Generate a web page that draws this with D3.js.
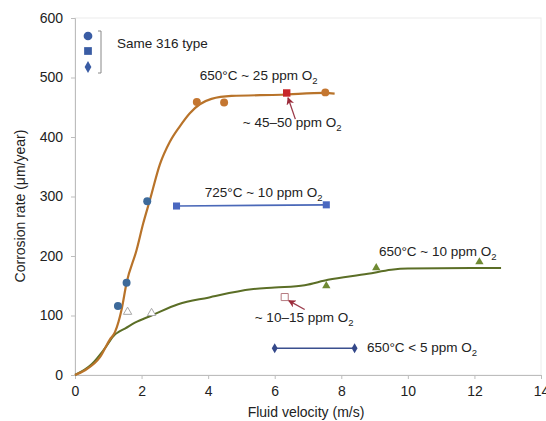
<!DOCTYPE html>
<html>
<head>
<meta charset="utf-8">
<script src="https://cdn.jsdelivr.net/npm/d3@7"></script>
<style>
  body { margin: 0; background: #fff; }
  text { font-family: "Liberation Sans", Arial, sans-serif; fill: #222; }
</style>
</head>
<body>
<div id="chart"></div>
<script>
// data
var orangeCurve = [[0,0],[0.3,8],[0.75,30],[1.05,60],[1.2,72],[1.4,110],[1.55,155],[1.85,210],[2.05,255],[2.25,294],[2.55,354],[2.85,392],[3.15,418],[3.45,440],[3.75,455],[4.1,464],[4.7,469],[6.2,471],[7.5,474],[7.8,473]];
var greenCurve = [[0,0],[0.5,18],[0.9,45],[1.2,68],[1.3,72],[1.5,78],[1.8,88],[2.3,100],[3.1,119],[4,130],[5.3,144],[6,147],[6.9,151],[7.6,160],[8.8,170],[9.5,177],[10,179],[12.8,180]];
var blueCircles = [[1.29,116],[1.55,155],[2.17,292]];
var orangeCircles = [[3.66,459],[4.48,458],[7.52,475]];
var redSquare = [[6.36,474]];
var hollowSquare = [[6.3,131]];
var hollowTriangles = [[1.58,106],[2.3,104]];
var greenTriangles = [[7.55,150],[9.05,180],[12.15,190]];
var blueSquares = [[3.05,284],[7.55,286]];
var navyDiamonds = [[6.0,45],[8.4,45]];
var xTicks = [0,2,4,6,8,10,12,14];
var yTicks = [0,100,200,300,400,500,600];

var labels = [
  {pre: "650°C ~ 25 ppm O", x: 3.75, y: 496},
  {pre: "~ 45–50 ppm O", x: 5.04, y: 417},
  {pre: "725°C ~ 10 ppm O", x: 3.9, y: 299},
  {pre: "650°C ~ 10 ppm O", x: 9.13, y: 200},
  {pre: "~ 10–15 ppm O", x: 5.4, y: 89},
  {pre: "650°C < 5 ppm O", x: 8.77, y: 39}
];

var svgWidth = 546;
var svgHeight = 421;
var margin = {top: 18, right: 5, bottom: 46, left: 75};
var width = svgWidth - margin.left - margin.right;
var height = svgHeight - margin.top - margin.bottom;

var svg = d3.select("#chart").append("svg")
  .attr("width", svgWidth)
  .attr("height", svgHeight);

var g = svg.append("g")
  .attr("transform", `translate(${margin.left}, ${margin.top})`);

var xScale = d3.scaleLinear().domain([0, 14]).range([0, 466]);
var yScale = d3.scaleLinear().domain([0, 600]).range([height, 0]);

// plot frame (faint top/right)
g.append("rect")
  .attr("x", 0).attr("y", 0)
  .attr("width", xScale(14)).attr("height", height)
  .attr("fill", "none")
  .attr("stroke", "#ececec");

var yAxis = g.append("g")
  .call(d3.axisLeft(yScale).tickValues(yTicks).tickSize(4).tickPadding(8));
var xAxis = g.append("g")
  .attr("transform", `translate(0, ${height})`)
  .call(d3.axisBottom(xScale).tickValues(xTicks).tickSize(4).tickPadding(7));

[xAxis, yAxis].forEach(function(a) {
  a.select(".domain").attr("stroke", "#bdbdbd");
  a.selectAll(".tick line").attr("stroke", "#bdbdbd");
  a.selectAll(".tick text").attr("font-size", 14).attr("fill", "#222")
    .style("font-family", "'Liberation Sans', Arial, sans-serif");
});

svg.append("text")
  .attr("transform", "translate(25, 206) rotate(-90)")
  .attr("text-anchor", "middle")
  .attr("font-size", 14)
  .text("Corrosion rate (μm/year)");

svg.append("text")
  .attr("x", 306)
  .attr("y", 417)
  .attr("text-anchor", "middle")
  .attr("font-size", 14)
  .text("Fluid velocity (m/s)");

var line = d3.line()
  .x(d => xScale(d[0]))
  .y(d => yScale(d[1]))
  .curve(d3.curveMonotoneX);

g.append("path").datum(greenCurve)
  .attr("d", line).attr("fill", "none")
  .attr("stroke", "#5b6e26").attr("stroke-width", 2);

g.append("path").datum(orangeCurve)
  .attr("d", line).attr("fill", "none")
  .attr("stroke", "#b8732a").attr("stroke-width", 2.2);

var straight = d3.line().x(d => xScale(d[0])).y(d => yScale(d[1]));

g.append("path").datum(blueSquares)
  .attr("d", straight).attr("stroke", "#4a68b8").attr("stroke-width", 1.6).attr("fill", "none");
g.append("path").datum(navyDiamonds)
  .attr("d", straight).attr("stroke", "#3a4f8e").attr("stroke-width", 1.4).attr("fill", "none");

function symbols(data, type, size, fill, stroke) {
  g.append("g").selectAll("path")
    .data(data).enter().append("path")
    .attr("transform", d => `translate(${xScale(d[0])}, ${yScale(d[1])})`)
    .attr("d", d3.symbol().type(type).size(size))
    .attr("fill", fill)
    .attr("stroke", stroke || "none")
    .attr("stroke-width", 1);
}

symbols(blueCircles, d3.symbolCircle, 50, "#3d6a9a");
symbols(orangeCircles, d3.symbolCircle, 50, "#c47630");
symbols(redSquare, d3.symbolSquare, 55, "#c8262a");
symbols(hollowSquare, d3.symbolSquare, 50, "#fff", "#b57a80");
symbols(hollowTriangles, d3.symbolTriangle, 30, "#fff", "#a8a8a8");
symbols(greenTriangles, d3.symbolTriangle, 30, "#6f8a32");
symbols(blueSquares, d3.symbolSquare, 50, "#4a68c0");
symbols(navyDiamonds, d3.symbolDiamond, 30, "#34488a");

// red arrows
svg.append("defs").append("marker")
  .attr("id", "arr")
  .attr("viewBox", "0 0 10 10")
  .attr("refX", 9).attr("refY", 5)
  .attr("markerWidth", 6).attr("markerHeight", 6)
  .attr("orient", "auto")
  .append("path").attr("d", "M0,0 L10,5 L0,10 L3,5 Z").attr("fill", "#9b2b3a");

g.append("line")
  .attr("x1", xScale(6.62)).attr("y1", yScale(430))
  .attr("x2", xScale(6.4)).attr("y2", yScale(466))
  .attr("stroke", "#9b3a4a").attr("stroke-width", 1.3)
  .attr("marker-end", "url(#arr)");

g.append("line")
  .attr("x1", xScale(6.9)).attr("y1", yScale(110))
  .attr("x2", xScale(6.42)).attr("y2", yScale(125))
  .attr("stroke", "#9b3a4a").attr("stroke-width", 1.3)
  .attr("marker-end", "url(#arr)");

// annotations
var ann = g.append("g").selectAll("text")
  .data(labels).enter().append("text")
  .attr("x", d => xScale(d.x))
  .attr("y", d => yScale(d.y))
  .attr("font-size", 13.5);
ann.append("tspan").text(d => d.pre);
ann.append("tspan").attr("dy", 4).attr("font-size", 9.5).text("2");

// legend box in the corner
var leg = g.append("g").attr("transform", "translate(13, 18)");
leg.append("path").attr("d", d3.symbol().type(d3.symbolCircle).size(60)).attr("fill", "#3a5ca4");
leg.append("path").attr("transform", "translate(0,15)").attr("d", d3.symbol().type(d3.symbolSquare).size(60)).attr("fill", "#3a5ca4");
leg.append("path").attr("transform", "translate(0,31)").attr("d", d3.symbol().type(d3.symbolDiamond).size(40)).attr("fill", "#3a5ca4");
leg.append("path")
  .attr("d", "M10,-5 L13,-5 L13,37 L10,37")
  .attr("fill", "none").attr("stroke", "#888").attr("stroke-width", 1);
leg.append("text").attr("x", 29).attr("y", 12).attr("font-size", 13.5).text("Same 316 type");
</script>
</body>
</html>
